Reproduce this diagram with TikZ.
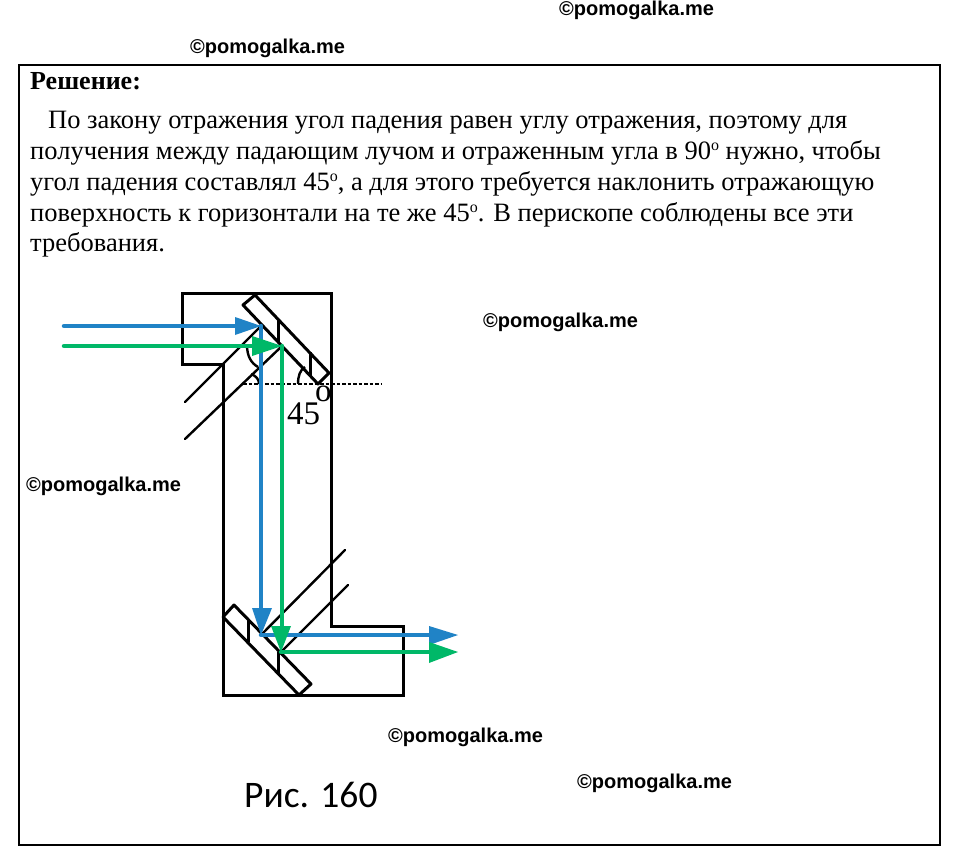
\documentclass[tikz,border=0pt]{standalone}
\usepackage{fontspec}
\setmainfont{Liberation Serif}
\newfontfamily\wmfont{Liberation Sans}
\newfontfamily\capfont{Carlito}
\usetikzlibrary{arrows.meta}
\definecolor{rayblue}{RGB}{32,131,198}
\definecolor{raygreen}{RGB}{0,184,104}
\tikzset{
  x=1pt,y=-1pt,
  mark text/.style={anchor=base west,inner sep=0pt,font=\wmfont\bfseries\fontsize{20}{22}\selectfont},
  body text/.style={anchor=base west,inner sep=0pt,font=\fontsize{26.5}{30}\selectfont},
  outline/.style={line width=3pt,black,line join=miter},
  thin line/.style={line width=2.4pt,black,line cap=round},
  mirror line/.style={line width=3pt,black,line join=round},
  blue ray/.style={line width=4.5pt,rayblue,line cap=round},
  green ray/.style={line width=4.5pt,raygreen,line cap=round},
}
\newcommand{\raytip}[4]{\fill[#1] #2 -- #3 -- #4 -- cycle;}
\newcommand{\degmark}{\raisebox{9pt}{\fontsize{16}{16}\selectfont o}}
\begin{document}
\begin{tikzpicture}
\useasboundingbox (0,0) rectangle (960,858);
\fill[white] (0,0) rectangle (960,858);
\draw[line width=1.7pt] (19,65) rectangle (940,845);
% watermarks
\node[mark text] (w1) at (559,16) {©pomogalka.me};
\node[mark text] (w2) at (190,54) {©pomogalka.me};
\node[mark text] (w3) at (483,327) {©pomogalka.me};
\node[mark text] (w4) at (26,491) {©pomogalka.me};
\node[mark text] (w5) at (388,742) {©pomogalka.me};
\node[mark text] (w6) at (577,788) {©pomogalka.me};
% text
\node[body text,font=\bfseries\fontsize{26}{30}\selectfont] (title) at (30,90) {Решение:};
\node[body text] (l1) at (48,128.5) {По закону отражения угол падения равен углу отражения, поэтому для};
\node[body text] (l2) at (30,159.5) {получения между падающим лучом и отраженным угла в 90\degmark{} нужно, чтобы};
\node[body text] (l3) at (30,190.5) {угол падения составлял 45\degmark, а для этого требуется наклонить отражающую};
\node[body text] (l4) at (30,221.5) {поверхность к горизонтали на те же 45\degmark. В перископе соблюдены все эти};
\node[body text] (l5) at (30,252) {требования.};
% periscope body
\draw[outline] (223,364) -- (182,364) -- (182,294) -- (331,294) -- (331,626) -- (403,626) -- (403,695) -- (223,695) -- (223,364);
% normals
\coordinate (tb) at (261,326); \coordinate (tg) at (282,346);
\coordinate (bb) at (261,635); \coordinate (bg) at (281,652);
\draw[thin line] (tb) -- (185,402);
\draw[thin line] (tg) -- (185,439);
\draw[thin line] (bb) -- (345,550);
\draw[thin line] (bg) -- (348,585);
% top mirror
\draw[mirror line] (243,305) -- (255,295) -- (329,373) -- (318,384) -- cycle;
\draw[mirror line] (278,319) -- (278,343);
\draw[mirror line] (310,352) -- (310,376);
% bottom mirror
\draw[mirror line] (223,617) -- (234,605) -- (311,684) -- (299,695) -- cycle;
\draw[mirror line] (248,620) -- (248,642);
\draw[mirror line] (278,652) -- (278,674);
% dashed and arcs
\draw[line width=1.7pt,dash pattern=on 3.5pt off 2pt] (243,384) -- (382,384);
\draw[line width=2.4pt] (247,345) .. controls (247,356) and (251,363) .. (258,367);
\draw[line width=2.4pt] (251,374) .. controls (256,376) and (259,379) .. (259,384);
\draw[line width=2.4pt] (298,384) .. controls (298,376) and (300,370) .. (305,367);
% rays
\coordinate (sb) at (64,326); \coordinate (sg) at (64,346);
\coordinate (eb) at (440,635); \coordinate (eg) at (440,652);
\draw[blue ray] (sb) -- (240,326);
\draw[green ray] (sg) -- (256,346);
\draw[blue ray] (tb) -- (261,612);
\draw[green ray] (tg) -- (282,630);
\draw[blue ray] (bb) -- (eb);
\draw[green ray] (bg) -- (eg);
\raytip{rayblue}{(235,317)}{(261,326)}{(235,335)}
\raytip{raygreen}{(252,336)}{(282,346)}{(252,356)}
\raytip{rayblue}{(252,608)}{(261,635)}{(272,608)}
\raytip{raygreen}{(271,626)}{(281,652)}{(291,626)}
\raytip{rayblue}{(429,626)}{(458,635)}{(429,645)}
\raytip{raygreen}{(429,642)}{(458,652)}{(429,663)}
% labels
\node[anchor=base west,inner sep=0pt,font=\fontsize{33}{36}\selectfont] (ang) at (287,424) {45};
\node[anchor=base west,inner sep=0pt,font=\fontsize{33}{36}\selectfont] (deg) at (315,401) {o};
\node[anchor=base west,inner sep=0pt,font=\capfont\fontsize{37.5}{42}\selectfont] (cap) at (244,807) {Рис. 160};
\end{tikzpicture}
\end{document}
